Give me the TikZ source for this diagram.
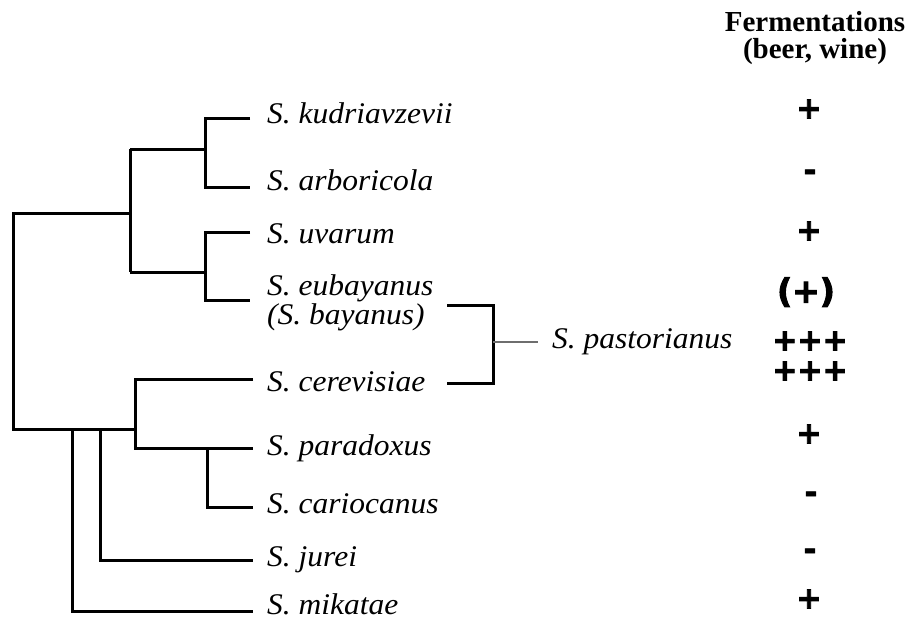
\documentclass[tikz,border=0pt]{standalone}
\usepackage{fontspec}
\newfontfamily\signfont{DejaVu Sans}[BoldFont={DejaVu Sans Bold}, BoldFeatures={FakeBold=3}]
\newfontfamily\labelfont{Liberation Serif}[ItalicFeatures={FakeStretch=1.05}]
\begin{document}
\begin{tikzpicture}[x=1pt,y=-1pt,
  branch/.style={line width=3pt, line join=miter, line cap=butt},
  hybrid/.style={line width=2.6pt, draw={rgb,255:red,110;green,110;blue,110}},
  species/.style={anchor=base west, inner sep=0pt, font=\labelfont\itshape\fontsize{30}{26}\selectfont},
  header/.style={anchor=north, inner sep=0pt, align=center, font=\labelfont\bfseries\fontsize{29}{27}\selectfont},
  sign/.style={anchor=base, inner sep=0pt, font=\signfont\bfseries\fontsize{30}{30}\selectfont}]
\useasboundingbox (0,0) rectangle (906,619);

% leaf ends
\coordinate (kud) at (250,118);
\coordinate (arb) at (250,187);
\coordinate (uva) at (250,232);
\coordinate (eub) at (250,300);
\coordinate (cer) at (253,379);
\coordinate (par) at (253,448);
\coordinate (car) at (253,507);
\coordinate (jur) at (253,560);
\coordinate (mik) at (253,611);
% internal nodes
\coordinate (n1) at (205,149);
\coordinate (n2) at (205,272);
\coordinate (n3) at (130,213);
\coordinate (n4) at (207,448);
\coordinate (n5) at (135,429);
\coordinate (n6) at (100,429);
\coordinate (n7) at (72,429);
\coordinate (root) at (13,213);
\coordinate (rootb) at (13,429);

% tree
\draw[branch] (kud) -| (n1) |- (arb);
\draw[branch] (n1) -- (n1 -| n3);
\draw[branch] (uva) -| (n2) |- (eub);
\draw[branch] (n2) -- (n2 -| n3);
\draw[branch] (n1 -| n3) -- (n2 -| n3);
\draw[branch] (n3) -- (root) -- (rootb) -- (n5);
\draw[branch] (cer) -| (n5) |- (par);
\draw[branch] (n4) |- (car);
\draw[branch] (n6) |- (jur);
\draw[branch] (n7) |- (mik);

% hybrid bracket
\coordinate (bt) at (447,305);
\coordinate (bb) at (447,383);
\coordinate (bm) at (493,342);
\draw[branch] (bt) -- (bt -| bm) -- (bb -| bm) -- (bb);
\node[species] (pas) at (552,348) {S. pastorianus};
\draw[hybrid] (bm) -- ([xshift=-14pt]pas.west |- bm);

% species labels
\node[species] (lkud) at (267,123) {S. kudriavzevii};
\node[species] (larb) at (267,190) {S. arboricola};
\node[species] (luva) at (267,243) {S. uvarum};
\node[species, align=left] (leub) at (267,324) {S. eubayanus\\(S. bayanus)};
\node[species] (lcer) at (267,391) {S. cerevisiae};
\node[species] (lpar) at (267,455) {S. paradoxus};
\node[species] (lcar) at (267,513) {S. cariocanus};
\node[species] (ljur) at (267,566) {S. jurei};
\node[species] (lmik) at (267,614) {S. mikatae};

% header
\node[header] (hd) at (815,11) {Fermentations\\(beer, wine)};

% signs
\node[sign] (s1) at (809,118.5) {+};
\node[sign] (s2) at (810,180.5) {-};
\node[sign] (s3) at (809,240.5) {+};
\node[sign, font=\signfont\bfseries\fontsize{33}{33}\selectfont] (s4) at (806,302.5) {(+)};
\node[sign] (s5) at (810,350.5) {+++};
\node[sign] (s6) at (810,380.5) {+++};
\node[sign] (s7) at (809,443.5) {+};
\node[sign] (s8) at (811,502.5) {-};
\node[sign] (s9) at (810,559.5) {-};
\node[sign] (s10) at (809,608.5) {+};
\end{tikzpicture}
\end{document}
